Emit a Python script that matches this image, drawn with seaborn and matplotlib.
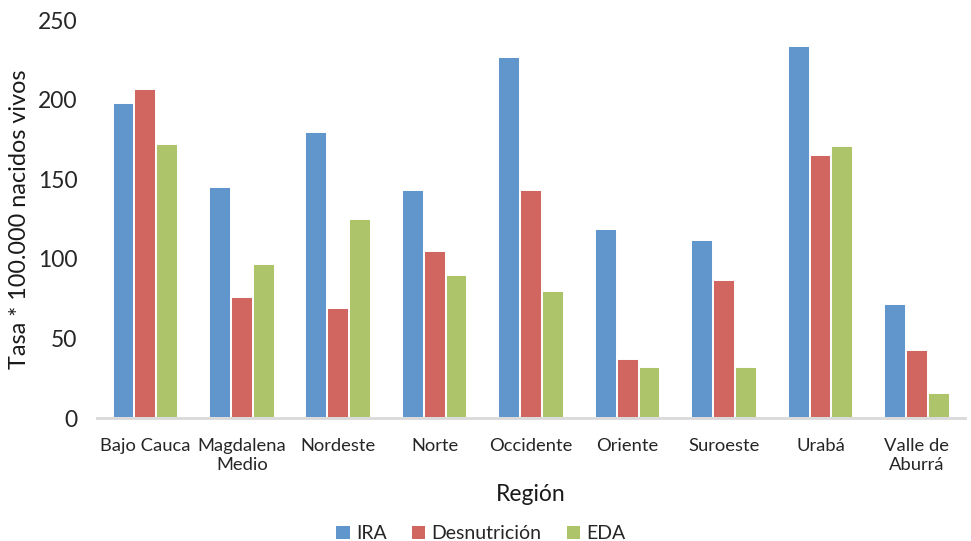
import matplotlib
matplotlib.use("Agg")
import matplotlib.pyplot as plt
import seaborn as sns
import pandas as pd

regiones = ["Bajo Cauca", "Magdalena\nMedio", "Nordeste", "Norte", "Occidente",
            "Oriente", "Suroeste", "Urabá", "Valle de\nAburrá"]
ira = [198, 145, 180, 143, 227, 119, 112, 234, 72]
desnutricion = [207, 76, 69, 105, 143, 37, 87, 165, 43]
eda = [172, 97, 125, 90, 80, 32, 32, 171, 16]
series = ["IRA", "Desnutrición", "EDA"]
colores = ["#6096CB", "#D0665F", "#ADC46B"]

df = pd.DataFrame({
    "Región": regiones * 3,
    "valor": ira + desnutricion + eda,
    "serie": [s for s in series for _ in regiones],
})

sns.set_theme(style="white")
plt.rcParams["font.family"] = ["Lato", "DejaVu Sans"]

fig = plt.figure(figsize=(9.71, 5.41), dpi=100)
ax = fig.add_axes([0.1, 0.227, 0.894, 0.736])

sns.barplot(data=df, x="Región", y="valor", hue="serie", hue_order=series,
            palette=colores, width=0.68, edgecolor="white", linewidth=1.4,
            saturation=1, ax=ax, legend=True)

ax.set_ylim(0, 250)
ax.set_yticks([0, 50, 100, 150, 200, 250])
ax.tick_params(axis="both", length=0, colors="#262626")
ax.tick_params(axis="x", pad=14, labelsize=13.2)
ax.tick_params(axis="y", pad=14, labelsize=16.5)
for lbl in ax.get_xticklabels():
    lbl.set_linespacing(1.25)

for side in ["top", "right", "left"]:
    ax.spines[side].set_visible(False)
ax.spines["bottom"].set_color("#D9D9D9")
ax.spines["bottom"].set_linewidth(2)

ax.set_xlabel("Región", fontsize=16.5, color="#1a1a1a", labelpad=8)
ax.set_ylabel("Tasa * 100.000 nacidos vivos", fontsize=16.8, color="#1a1a1a", labelpad=6)

leg = ax.legend(loc="center", bbox_to_anchor=(0.442, -0.29), ncol=3,
                frameon=False, fontsize=14, handlelength=0.7, handleheight=0.7,
                handletextpad=0.3, columnspacing=1.3, labelcolor="#262626",
                borderpad=0.1)
for h in leg.legend_handles:
    h.set_edgecolor("none")

fig.savefig("out.png", dpi=100, facecolor="white")
